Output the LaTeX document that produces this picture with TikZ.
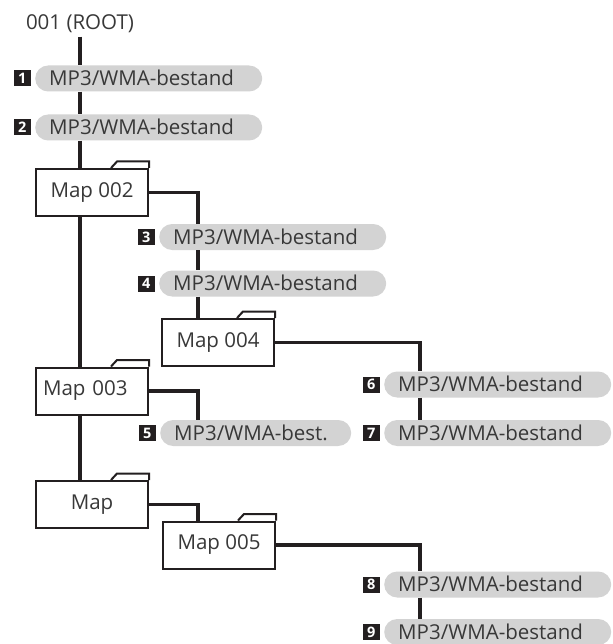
\documentclass[tikz,border=0pt]{standalone}
\usepackage{fontspec}
\setmainfont{Open Sans}
\usetikzlibrary{positioning}
\definecolor{pillgray}{HTML}{D3D3D3}
\definecolor{textgray}{HTML}{383838}
\definecolor{badgeblack}{HTML}{231F20}

\begin{document}
\begin{tikzpicture}[
        x=1pt, y=-1pt,
        every node/.style={font=\fontsize{20.5}{24}\selectfont, text=textgray},
        conn/.style={draw=badgeblack, line width=3.4pt},
        file/.style={fill=pillgray, rounded corners=13pt, minimum height=26pt, inner ysep=0pt, inner xsep=14pt,
            text width=199pt, align=left, text height=16.6pt, text depth=2pt, anchor=west},
        badge/.style={fill=badgeblack, text=white, font=\bfseries\fontsize{14.5}{14.5}\selectfont,
            text width=17pt, align=center, text height=13.2pt, text depth=2.8pt, inner sep=0pt},
        folder/.style={draw=badgeblack, line width=2pt, fill=white, minimum width=112pt, minimum height=47pt, inner sep=0pt,
            append after command={\pgfextra{\draw[draw=badgeblack, line width=2pt]
                ([xshift=76pt]\tikzlastnode.north west) -- ++(6pt,6.5pt) -| (\tikzlastnode.north east);}}}
    ]
    \useasboundingbox (0,0) rectangle (612,644);
    \node (root) at (80,24) {001 (ROOT)};
    \node[file] (p1) at (35,78.5) {MP3/WMA-bestand};
    \node[badge, left=4pt of p1] (n1) {1};
    \node[file] (p2) at (35,127.5) {MP3/WMA-bestand};
    \node[badge, left=4pt of p2] (n2) {2};
    \node[folder] (m2) at (92,192.5) {Map 002};
    \node[file] (p3) at (159,237) {MP3/WMA-bestand};
    \node[badge, left=4pt of p3] (n3) {3};
    \node[file] (p4) at (159,283.5) {MP3/WMA-bestand};
    \node[badge, left=4pt of p4] (n4) {4};
    \node[folder] (m4) at (218,342.5) {Map 004};
    \node[file] (p6) at (384,384.5) {MP3/WMA-bestand};
    \node[badge, left=4pt of p6] (n6) {6};
    \node[file] (p7) at (384,433) {MP3/WMA-bestand};
    \node[badge, left=4pt of p7] (n7) {7};
    \node[folder, text width=98pt, align=left, inner xsep=7pt] (m3) at (92,391) {Map 003};
    \node[file, text width=163pt] (p5) at (160,433) {MP3/WMA-best.};
    \node[badge, left=4pt of p5] (n5) {5};
    \node[folder] (mx) at (92,504.5) {Map};
    \node[folder] (m5) at (219,545) {Map 005};
    \node[file] (p8) at (384,584.5) {MP3/WMA-bestand};
    \node[badge, left=4pt of p8] (n8) {8};
    \node[file] (p9) at (384,632) {MP3/WMA-bestand};
    \node[badge, left=4pt of p9] (n9) {9};

    \coordinate (b1) at (198,0);
    \coordinate (b2) at (420,0);
    \draw[conn] (root.south) -- (root.south |- p1.north);
    \draw[conn] (root.south |- p1.south) -- (root.south |- p2.north);
    \draw[conn] (root.south |- p2.south) -- (root.south |- m2.north);
    \draw[conn] (root.south |- m2.south) -- (root.south |- m3.north);
    \draw[conn] (root.south |- m3.south) -- (root.south |- mx.north);
    \draw[conn] (m2.east) -| (b1 |- p3.north);
    \draw[conn] (b1 |- p3.south) -- (b1 |- p4.north);
    \draw[conn] (b1 |- p4.south) -- (b1 |- m4.north);
    \draw[conn] (m4.east) -| (b2 |- p6.north);
    \draw[conn] (b2 |- p6.south) -- (b2 |- p7.north);
    \draw[conn] (m3.east) -| (b1 |- p5.north);
    \draw[conn] (mx.east) -| (b1 |- m5.north);
    \draw[conn] (m5.east) -| (b2 |- p8.north);
    \draw[conn] (b2 |- p8.south) -- (b2 |- p9.north);
\end{tikzpicture}
\end{document}
